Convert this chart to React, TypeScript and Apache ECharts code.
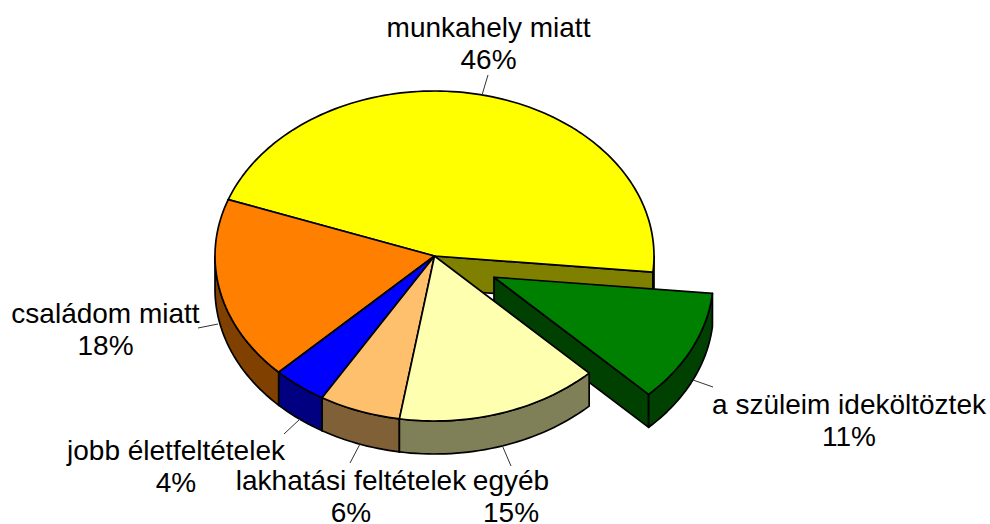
import React, { useEffect, useRef } from "react";
import * as echarts from "echarts";

const categories = ["munkahely miatt", "a szüleim ideköltöztek", "egyéb", "lakhatási feltételek", "jobb életfeltételek", "családom miatt"];
const percents = [46, 11, 15, 6, 4, 18];
const explodeFactors = [0, 0.3, 0, 0, 0, 0];

const topColors = ["#FFFF00", "#008000", "#FFFFB0", "#FFC06E", "#0000FF", "#FF8000"];
const sideColors = ["#808000", "#004000", "#808058", "#806037", "#000080", "#804000"];
const paintRanks = [0, 1, 5, 4, 3, 2];

const CX = 434.5, CY = 256, RX = 219.5, RY = 165, DEPTH = 33, START = 290;
const BORDER = 1.7;

const labelBoxes = [
  { x: 488.5, y: 43, line: [482, 95, 488, 75] },
  { x: 849, y: 420, line: [693, 380, 713, 387] },
  { x: 511, y: 496, line: [502, 445, 511, 466] },
  { x: 351, y: 496, line: [360, 444, 350, 463] },
  { x: 176, y: 466, line: [300, 419, 284, 434] },
  { x: 105.5, y: 329, line: [218, 324, 198, 328] },
];

const total = percents.reduce((a, b) => a + b, 0);
const rad = (d: number) => (d * Math.PI) / 180;

function arcPoints(ox: number, oy: number, a: number, b: number) {
  const n = Math.max(2, Math.ceil(Math.abs(b - a) / 1.5));
  const pts: number[][] = [];
  for (let i = 0; i <= n; i++) {
    const t = rad(a + ((b - a) * i) / n);
    pts.push([ox + RX * Math.sin(t), oy - RY * Math.cos(t)]);
  }
  return pts;
}

function renderSlice(_params: any, api: any) {
  const index = api.value(1);
  let acc = START;
  for (let i = 0; i < index; i++) acc += (percents[i] / total) * 360;
  const a = acc;
  const b = a + (api.value(0) / total) * 360;
  const mid = rad((a + b) / 2);
  const f = explodeFactors[index];
  const ox = CX + f * RX * Math.sin(mid);
  const oy = CY - f * RY * Math.cos(mid);
  const rank = paintRanks[index] * 10;
  const lineStyle = { stroke: "#000", lineWidth: BORDER, lineJoin: "round" };
  const children: any[] = [];
  const face = (ang: number, z: number) => {
    const p = arcPoints(ox, oy, ang, ang + 1e-3)[0];
    children.push({
      type: "polygon", z2: rank + z,
      shape: { points: [[ox, oy], p, [p[0], p[1] + DEPTH], [ox, oy + DEPTH]] },
      style: { fill: sideColors[index], ...lineStyle },
    });
  };
  const s0 = ((a % 360) + 360) % 360;
  const e0 = ((b % 360) + 360) % 360;
  if (s0 > 180) face(a, 1);
  if (e0 < 180) face(b, 2);
  // outer wall: only the parts on the front half of the ellipse
  for (const k of [0, 360]) {
    const lo = Math.max(a, 90 + k);
    const hi = Math.min(b, 270 + k);
    if (hi > lo) {
      const up = arcPoints(ox, oy, lo, hi);
      const down = up.slice().reverse().map((q) => [q[0], q[1] + DEPTH]);
      children.push({
        type: "polygon", z2: rank + 3,
        shape: { points: up.concat(down) },
        style: { fill: sideColors[index], ...lineStyle },
      });
    }
  }
  children.push({
    type: "polygon", z2: rank + 4,
    shape: { points: [[ox, oy], ...arcPoints(ox, oy, a, b)] },
    style: { fill: topColors[index], ...lineStyle },
  });
  return { type: "group", children };
}

export default function App() {
  const ref = useRef<HTMLDivElement>(null);
  useEffect(() => {
    const chart = echarts.init(ref.current!, null, { renderer: "svg" });
    chart.setOption({
      animation: false,
      backgroundColor: "#ffffff",
      series: [
        {
          type: "custom",
          coordinateSystem: "none",
          silent: true,
          clip: false,
          renderItem: renderSlice,
          data: percents.map((v, i) => [v, i]),
        },
      ],
      graphic: labelBoxes.flatMap((l, i) => [
        {
          type: "line",
          z: 10,
          silent: true,
          shape: { x1: l.line[0], y1: l.line[1], x2: l.line[2], y2: l.line[3] },
          style: { stroke: "#333", lineWidth: 1 },
        },
        {
          type: "text",
          z: 11,
          x: l.x,
          y: l.y,
          silent: true,
          style: {
            text: `${categories[i]}\n${percents[i]}%`,
            fill: "#000",
            font: '28px "Liberation Sans", Arial, sans-serif',
            lineHeight: 32,
            align: "center",
            verticalAlign: "middle",
          },
        },
      ]),
    });
    return () => chart.dispose();
  }, []);
  return <div ref={ref} style={{ position: "absolute", left: 0, top: 0, width: 990, height: 524 }} />;
}
